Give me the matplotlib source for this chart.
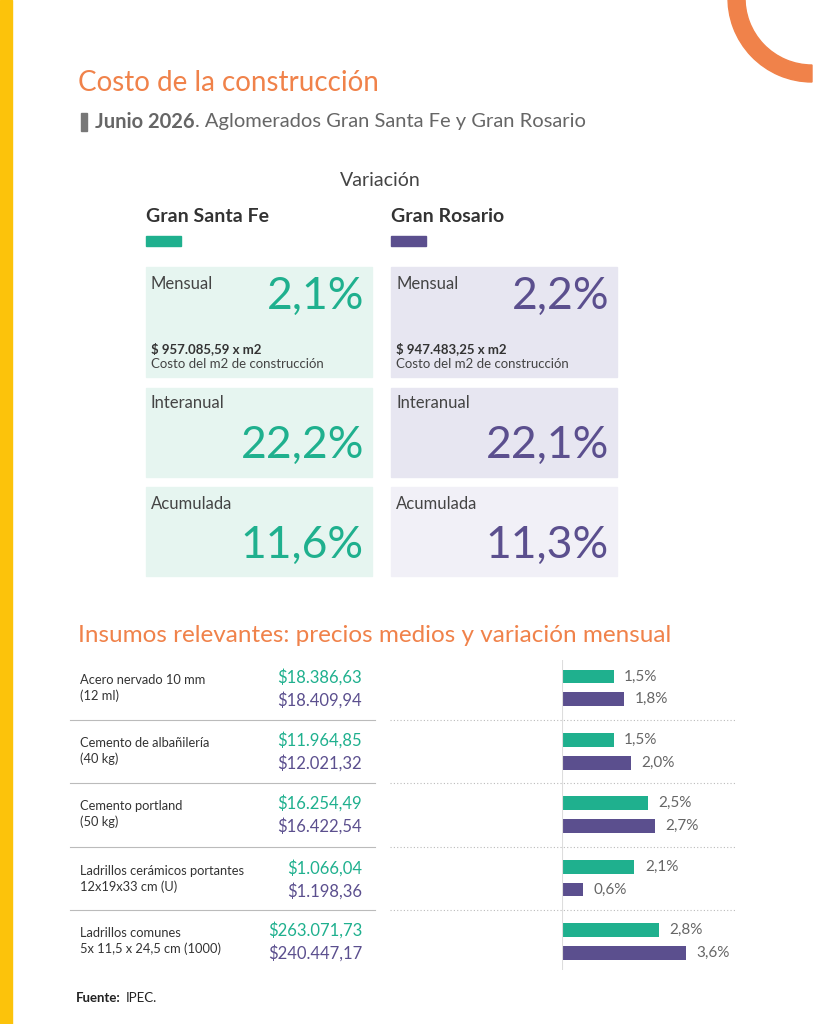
import matplotlib.pyplot as plt
from matplotlib.patches import Rectangle, Wedge

plt.rcParams['font.family'] = ['Lato', 'DejaVu Sans']

# datos
regiones = ['Gran Santa Fe', 'Gran Rosario']
mensual = ['2,1%', '2,2%']
interanual = ['22,2%', '22,1%']
acumulada = ['11,6%', '11,3%']
costo_m2 = ['$ 957.085,59 x m2', '$ 947.483,25 x m2']

insumos = ['Acero nervado 10 mm\n(12 ml)', 'Cemento de albañilería\n(40 kg)',
           'Cemento portland\n(50 kg)', 'Ladrillos cerámicos portantes\n12x19x33 cm (U)',
           'Ladrillos comunes\n5x 11,5 x 24,5 cm (1000)']
precio_sf = ['$18.386,63', '$11.964,85', '$16.254,49', '$1.066,04', '$263.071,73']
precio_ro = ['$18.409,94', '$12.021,32', '$16.422,54', '$1.198,36', '$240.447,17']
var_sf = [1.5, 1.5, 2.5, 2.1, 2.8]
var_ro = [1.8, 2.0, 2.7, 0.6, 3.6]

verde = '#1fb08e'
violeta = '#5b4f8e'
naranja = '#f0824a'
gris = '#444444'

fig = plt.figure(figsize=(8.19, 10.24), dpi=100)
bg = fig.add_axes([0, 0, 1, 1])
bg.set_xlim(0, 819)
bg.set_ylim(1024, 0)
bg.axis('off')

# decoracion
bg.add_patch(Rectangle((0, 0), 12, 1024, color='#fcc30b'))
bg.add_patch(Wedge((812, -2), 84, 90, 275, width=17, color=naranja))

bg.text(78, 83, 'Costo de la construcción', fontsize=20, color=naranja, va='center')
bg.add_patch(Rectangle((81, 113), 6, 18, color='#777777'))
t = bg.text(95, 122, 'Junio 2026', fontsize=14.5, color='#666666', va='center', weight='bold')
r = fig.canvas.get_renderer()
x_fin = t.get_window_extent(r).x1
bg.text(x_fin, 1024 - 122, '. Aglomerados Gran Santa Fe y Gran Rosario', fontsize=14.5,
        color='#666666', va='center', transform=None)

bg.text(380, 181, 'Variación', fontsize=14, color=gris, ha='center', va='center')

# tarjetas
xs = [146, 391]
colores = [verde, violeta]
fondos = [['#e6f5f0', '#e6f5f0', '#e6f5f0'], ['#e7e6f1', '#e7e6f1', '#f1f0f7']]
for i in range(2):
    x = xs[i]
    c = colores[i]
    bg.text(x, 216, regiones[i], fontsize=14, weight='bold', color='#333333', va='center')
    bg.add_patch(Rectangle((x, 236), 35, 10, color=c))
    bg.add_patch(Rectangle((x, 267), 226, 110, color=fondos[i][0]))
    bg.add_patch(Rectangle((x, 388), 226, 89, color=fondos[i][1]))
    bg.add_patch(Rectangle((x, 487), 226, 89, color=fondos[i][2]))
    bg.text(x + 5, 284, 'Mensual', fontsize=12, color=gris, va='center')
    bg.text(x + 218, 296, mensual[i], fontsize=32, color=c, ha='right', va='center')
    bg.text(x + 5, 349, costo_m2[i], fontsize=9.5, weight='bold', color='#333333', va='center')
    bg.text(x + 5, 364, 'Costo del m2 de construcción', fontsize=9.5, color=gris, va='center')
    bg.text(x + 5, 403, 'Interanual', fontsize=12, color=gris, va='center')
    bg.text(x + 218, 445, interanual[i], fontsize=32, color=c, ha='right', va='center')
    bg.text(x + 5, 504, 'Acumulada', fontsize=12, color=gris, va='center')
    bg.text(x + 218, 545, acumulada[i], fontsize=32, color=c, ha='right', va='center')

bg.text(78, 636, 'Insumos relevantes: precios medios y variación mensual',
        fontsize=17.5, color=naranja, va='center')

# tabla de insumos
filas = [688, 751, 814, 879, 941]
for i, nombre in enumerate(insumos):
    y = filas[i]
    bg.text(80, y, nombre, fontsize=9.3, color='#333333', va='center', linespacing=1.3)
    bg.text(362, y - 11, precio_sf[i], fontsize=12, color=verde, ha='right', va='center')
    bg.text(362, y + 12, precio_ro[i], fontsize=12, color=violeta, ha='right', va='center')
    if i < len(insumos) - 1:
        ysep = (filas[i] + filas[i + 1]) / 2
        bg.plot([70, 375], [ysep, ysep], color='#bbbbbb', lw=0.8)
        bg.plot([390, 735], [ysep, ysep], color='#bbbbbb', lw=0.8, ls=(0, (1, 2)))

bg.text(76, 998, 'Fuente:', fontsize=9.5, weight='bold', color='#222222', va='center')
bg.text(126, 998, 'IPEC.', fontsize=9.5, color='#222222', va='center')

# barras
ax = fig.add_axes([562 / 819, 1 - 970 / 1024, (819 - 562) / 819, (970 - 660) / 1024])
ax.set_facecolor('none')
pos = list(range(len(insumos)))
ax.barh([p - 0.18 for p in pos], var_sf, height=0.22, color=verde)
ax.barh([p + 0.18 for p in pos], var_ro, height=0.22, color=violeta)
for p, a, b in zip(pos, var_sf, var_ro):
    ax.text(a + 0.3, p - 0.18, f'{a:.1f}%'.replace('.', ','), fontsize=11,
            color='#666666', va='center')
    ax.text(b + 0.3, p + 0.18, f'{b:.1f}%'.replace('.', ','), fontsize=11,
            color='#666666', va='center')
ax.set_xlim(0, (819 - 562) / 34.5)
ax.set_ylim(4.45, -0.44)
ax.axvline(0, color='#dddddd', lw=0.8)
ax.axis('off')

fig.savefig('out.png', dpi=100)
